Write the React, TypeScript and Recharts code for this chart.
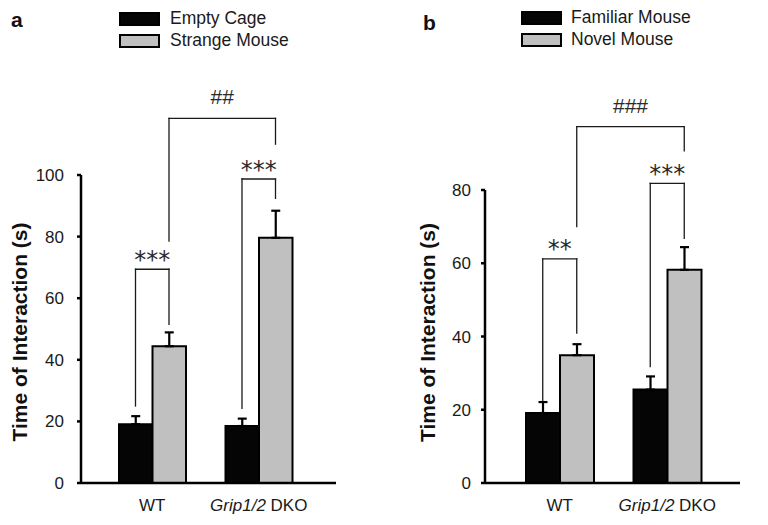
import React from 'react';
import { BarChart, Bar, XAxis, YAxis, ErrorBar, ReferenceLine, Label } from 'recharts';

const FONT = '"Liberation Sans", Arial, Helvetica, sans-serif';

const categories = ['WT', 'Grip1/2 DKO'];

// Panel a
const aSeriesNames = ['Empty Cage', 'Strange Mouse'];
const aEmptyCage = [19.1, 18.5];
const aEmptyCageErr = [2.6, 2.4];
const aStrangeMouse = [44.4, 79.6];
const aStrangeMouseErr = [4.5, 8.8];
const aTicks = [0, 20, 40, 60, 80, 100];
const aBrackets = [
  { from: 'WT', fromSeries: 0, to: 'WT', toSeries: 1, top: 69.4, leftBase: 25.0, rightBase: 51.5, mark: '***' },
  { from: 'Grip1/2 DKO', fromSeries: 0, to: 'Grip1/2 DKO', toSeries: 1, top: 98.7, leftBase: 24.2, rightBase: 92.4, mark: '***' },
  { from: 'WT', fromSeries: 1, to: 'Grip1/2 DKO', toSeries: 1, top: 118.4, leftBase: 78.5, rightBase: 110, mark: '##' },
];

// Panel b
const bSeriesNames = ['Familiar Mouse', 'Novel Mouse'];
const bFamiliar = [19.1, 25.5];
const bFamiliarErr = [3.0, 3.6];
const bNovel = [34.9, 58.2];
const bNovelErr = [3.0, 6.2];
const bTicks = [0, 20, 40, 60, 80];
const bBrackets = [
  { from: 'WT', fromSeries: 0, to: 'WT', toSeries: 1, top: 61.2, leftBase: 22.5, rightBase: 40.9, mark: '**' },
  { from: 'Grip1/2 DKO', fromSeries: 0, to: 'Grip1/2 DKO', toSeries: 1, top: 81.8, leftBase: 31.8, rightBase: 66.8, mark: '***' },
  { from: 'WT', fromSeries: 1, to: 'Grip1/2 DKO', toSeries: 1, top: 97.3, leftBase: 70.0, rightBase: 90.7, mark: '###' },
];

const buildRows = (s1: number[], e1: number[], s2: number[], e2: number[]) =>
  categories.map((name, i) => ({ name, s1: s1[i], s1Err: [0, e1[i]], s2: s2[i], s2Err: [0, e2[i]] }));

const aRows = buildRows(aEmptyCage, aEmptyCageErr, aStrangeMouse, aStrangeMouseErr);
const bRows = buildRows(bFamiliar, bFamiliarErr, bNovel, bNovelErr);

const XTick = (props: any) => {
  const { x, y, payload } = props;
  const v: string = payload.value;
  const m = v.match(/^(Grip1\/2)(.*)$/);
  return (
    <text x={x} y={y + 28} textAnchor="middle" fontFamily={FONT} fontSize={17} fill="#1a1a1a">
      {m ? (
        <>
          <tspan fontStyle="italic">{m[1]}</tspan>
          <tspan>{m[2]}</tspan>
        </>
      ) : (
        v
      )}
    </text>
  );
};

const segShape = (dx1: number, dx2: number, mark?: string) => (p: any) => {
  const x1 = p.x1 + dx1;
  const x2 = p.x2 + dx2;
  const isHash = mark && mark[0] === '#';
  return (
    <g>
      <line x1={x1} y1={p.y1} x2={x2} y2={p.y2} stroke="#1a1a1a" strokeWidth={1.3} strokeLinecap="square" />
      {mark ? (
        <text
          x={(x1 + x2) / 2}
          y={p.y1 - (isHash ? 14 : 1.5)}
          textAnchor="middle"
          fontFamily={isHash ? FONT : '"DejaVu Sans", sans-serif'}
          fontSize={isHash ? 21 : 24}
          fill="#2a2a2a"
        >
          {mark}
        </text>
      ) : null}
    </g>
  );
};

const renderBrackets = (brackets: any[], barSize: number, prefix: string) => {
  const off = (s: number) => (s === 0 ? -barSize / 2 : barSize / 2);
  const out: any[] = [];
  brackets.forEach((b, i) => {
    const dl = off(b.fromSeries);
    const dr = off(b.toSeries);
    out.push(
      <ReferenceLine
        key={`${prefix}l${i}`}
        ifOverflow="visible"
        segment={[{ x: b.from, y: b.leftBase }, { x: b.from, y: b.top }]}
        shape={segShape(dl, dl)}
      />
    );
    out.push(
      <ReferenceLine
        key={`${prefix}h${i}`}
        ifOverflow="visible"
        segment={[{ x: b.from, y: b.top }, { x: b.to, y: b.top }]}
        shape={segShape(dl, dr, b.mark)}
      />
    );
    out.push(
      <ReferenceLine
        key={`${prefix}r${i}`}
        ifOverflow="visible"
        segment={[{ x: b.to, y: b.rightBase }, { x: b.to, y: b.top }]}
        shape={segShape(dr, dr)}
      />
    );
  });
  return out;
};

type PanelProps = {
  letter: string;
  letterX: number;
  letterY: number;
  names: string[];
  legendX: number;
  legendTextX: number;
  legendTop: number;
  rows: any[];
  ticks: number[];
  yMax: number;
  brackets: any[];
  barSize: number;
  axisWidth: number;
  margin: { top: number; right: number; bottom: number; left: number };
  padding: { left: number; right: number };
  tickMargin: number;
  yLabelX: number;
  yLabelDy: number;
};

const Panel = (p: PanelProps) => {
  return (
    <div style={{ position: 'relative', width: 384, height: 525 }}>
      <div
        style={{
          position: 'absolute',
          left: p.letterX,
          top: p.letterY,
          fontFamily: FONT,
          fontWeight: 'bold',
          fontSize: 21,
          lineHeight: '21px',
          color: '#111',
        }}
      >
        {p.letter}
      </div>
      {p.names.map((n, i) => (
        <React.Fragment key={n}>
          <div
            style={{
              position: 'absolute',
              left: p.legendX,
              top: p.legendTop + i * 22.5,
              width: 37,
              height: 10,
              border: '2px solid #000',
              background: i === 0 ? '#050505' : '#c0c0c0',
            }}
          />
          <div
            style={{
              position: 'absolute',
              left: p.legendTextX,
              top: p.legendTop - 4 + i * 22.5,
              fontFamily: FONT,
              fontSize: 17.5,
              lineHeight: '20px',
              color: '#1a1a1a',
              whiteSpace: 'nowrap',
            }}
          >
            {n}
          </div>
        </React.Fragment>
      ))}
      <div style={{ position: 'absolute', left: 0, top: 0 }}>
        <BarChart width={384} height={525} data={p.rows} margin={p.margin} barGap={0} barSize={p.barSize}>
          <XAxis
            dataKey="name"
            type="category"
            padding={p.padding}
            tickLine={false}
            tickSize={0}
            tickMargin={0}
            height={30}
            axisLine={{ stroke: '#000', strokeWidth: 2.5 }}
            tick={<XTick />}
            interval={0}
          />
          <YAxis
            domain={[0, p.yMax]}
            ticks={p.ticks}
            width={p.axisWidth}
            tickSize={4}
            tickMargin={p.tickMargin}
            axisLine={{ stroke: '#000', strokeWidth: 2.5 }}
            tickLine={{ stroke: '#000', strokeWidth: 2.5 }}
            tick={{ fontFamily: FONT, fontSize: 17, fill: '#1a1a1a' }}
          >
            <Label
              content={(lp: any) => {
                const vb = lp.viewBox || {};
                const cy = vb.y + vb.height / 2 + p.yLabelDy;
                return (
                  <text
                    x={p.yLabelX}
                    y={cy}
                    transform={`rotate(-90 ${p.yLabelX} ${cy})`}
                    textAnchor="middle"
                    dominantBaseline="central"
                    fontFamily={FONT}
                    fontWeight="bold"
                    fontSize={21}
                    fill="#111"
                  >
                    Time of Interaction (s)
                  </text>
                );
              }}
            />
          </YAxis>
          <Bar dataKey="s1" name={p.names[0]} fill="#050505" stroke="#000" strokeWidth={2} isAnimationActive={false}>
            <ErrorBar dataKey="s1Err" width={4.5} stroke="#000" strokeWidth={2.2} direction="y" />
          </Bar>
          <Bar dataKey="s2" name={p.names[1]} fill="#c0c0c0" stroke="#000" strokeWidth={2} isAnimationActive={false}>
            <ErrorBar dataKey="s2Err" width={4.5} stroke="#000" strokeWidth={2.2} direction="y" />
          </Bar>
          {renderBrackets(p.brackets, p.barSize, p.letter)}
        </BarChart>
      </div>
    </div>
  );
};

export default function App() {
  return (
    <div style={{ position: 'absolute', left: 0, top: 0, width: 768, height: 525, background: '#fff', display: 'flex' }}>
      <Panel
        letter="a"
        letterX={11}
        letterY={9}
        names={aSeriesNames}
        legendX={119}
        legendTextX={170}
        legendTop={11.5}
        rows={aRows}
        ticks={aTicks}
        yMax={100}
        brackets={aBrackets}
        barSize={33.5}
        axisWidth={81}
        margin={{ top: 175, right: 48, bottom: 12, left: 0 }}
        padding={{ left: 18, right: 24 }}
        tickMargin={13}
        yLabelX={19}
        yLabelDy={3}
      />
      <Panel
        letter="b"
        letterX={39}
        letterY={12}
        names={bSeriesNames}
        legendX={137}
        legendTextX={187}
        legendTop={10.5}
        rows={bRows}
        ticks={bTicks}
        yMax={80}
        brackets={bBrackets}
        barSize={34}
        axisWidth={101}
        margin={{ top: 190, right: 28, bottom: 12, left: 0 }}
        padding={{ left: 21, right: 19 }}
        tickMargin={10}
        yLabelX={43}
        yLabelDy={-4}
      />
    </div>
  );
}
